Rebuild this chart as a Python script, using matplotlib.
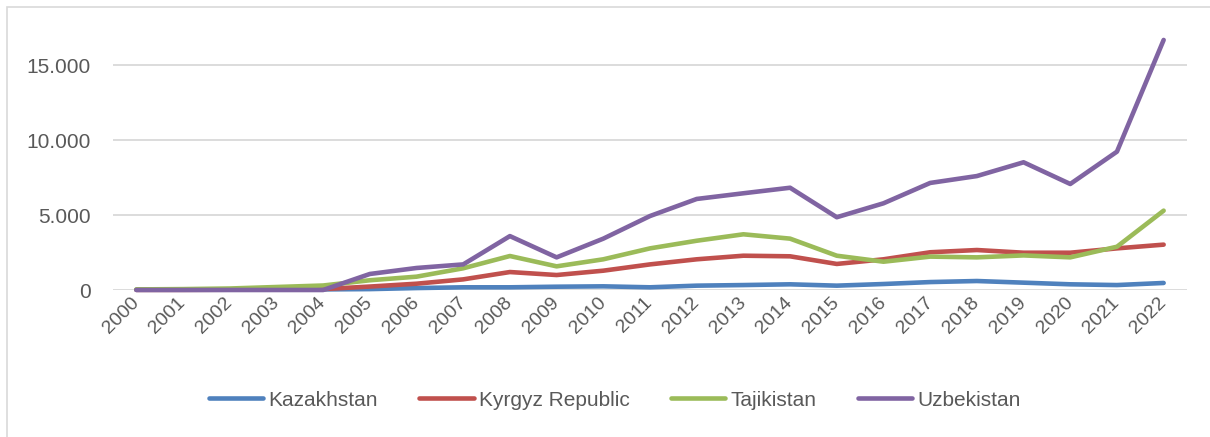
import matplotlib.pyplot as plt
from matplotlib.patches import Rectangle
from matplotlib.ticker import FuncFormatter

years = [str(y) for y in range(2000, 2023)]

kazakhstan = [20, 20, 30, 30, 40, 60, 130, 180, 180, 220, 245, 180, 290, 330,
              380, 290, 400, 530, 600, 490, 380, 330, 470]
kyrgyz = [10, 10, 20, 30, 60, 230, 420, 710, 1200, 1000, 1290, 1710, 2050,
          2290, 2250, 1740, 2050, 2520, 2670, 2490, 2490, 2780, 3030]
tajikistan = [40, 60, 100, 200, 300, 650, 890, 1450, 2270, 1580, 2050, 2780,
              3290, 3720, 3430, 2290, 1890, 2230, 2180, 2310, 2180, 2890, 5300]
uzbekistan = [0, 0, 0, 0, 0, 1070, 1470, 1710, 3600, 2180, 3430, 4940, 6080,
              6460, 6830, 4860, 5790, 7150, 7610, 8530, 7080, 9240, 16700]

series = [
    ('Kazakhstan', kazakhstan, '#4F81BD'),
    ('Kyrgyz Republic', kyrgyz, '#C0504D'),
    ('Tajikistan', tajikistan, '#9BBB59'),
    ('Uzbekistan', uzbekistan, '#8064A2'),
]

plt.rcParams['font.family'] = ['Liberation Sans', 'DejaVu Sans']

fig = plt.figure(figsize=(12.1, 4.37), dpi=100)
# chart frame
fig.patches.append(Rectangle((7 / 1210, -0.1), 1.2, 1 - 7 / 437 + 0.1,
                             transform=fig.transFigure, fill=False,
                             edgecolor='#D9D9D9', linewidth=1.2))

ax = fig.add_axes([113 / 1210, 1 - 290 / 437, (1187 - 113) / 1210, 277 / 437])

x = list(range(len(years)))
for name, vals, color in series:
    ax.plot(x, vals, color=color, linewidth=3.3, label=name,
            solid_capstyle='round', solid_joinstyle='round', clip_on=False,
            zorder=3)

ax.set_xlim(-0.5, len(years) - 0.5)
ax.set_ylim(0, 18500)
ax.set_yticks([0, 5000, 10000, 15000])
ax.yaxis.set_major_formatter(
    FuncFormatter(lambda v, p: f'{int(v):,}'.replace(',', '.')))
ax.grid(axis='y', color='#D9D9D9', linewidth=1.3)
ax.set_axisbelow(True)
for s in ax.spines.values():
    s.set_visible(False)
ax.tick_params(axis='y', length=0, pad=16, labelsize=15, labelcolor='#595959')
ax.tick_params(axis='x', length=0, pad=7, labelsize=14, labelcolor='#595959')
ax.set_xticks(x)
ax.set_xticklabels(years, rotation=45, ha='right', va='center',
                   rotation_mode='anchor')

leg = fig.legend(loc='center', bbox_to_anchor=(615 / 1210, 1 - 400 / 437),
                 ncol=4, frameon=False, fontsize=15, handlelength=2.6,
                 handletextpad=0.25, columnspacing=2.0)
for t in leg.get_texts():
    t.set_color('#595959')

fig.savefig('out.png', dpi=100)
